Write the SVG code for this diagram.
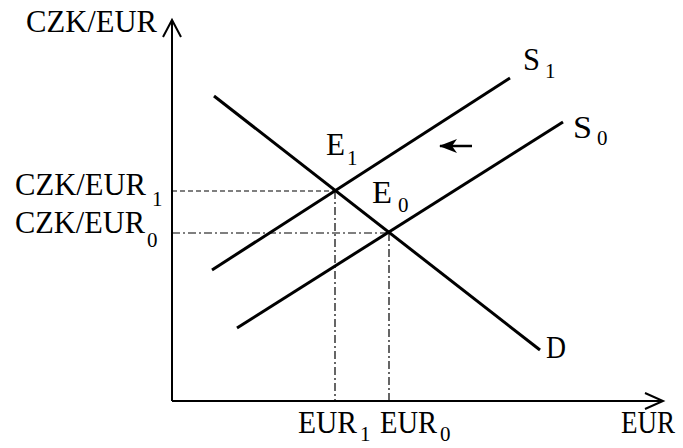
<svg xmlns="http://www.w3.org/2000/svg" width="683" height="448" viewBox="0 0 683 448">
<style>
.t{font-family:"Liberation Serif","Times New Roman",serif;font-size:32px;fill:#000}
.s{font-family:"Liberation Serif","Times New Roman",serif;font-size:21px;fill:#000}
.ax{stroke:#000;stroke-width:2;fill:none}
.ln{stroke:#000;stroke-width:3;fill:none}
.dash{stroke:#000;stroke-width:1.2;stroke-dasharray:5 3;fill:none}
.dd{stroke:#000;stroke-width:1.2;stroke-dasharray:8 3 2 3;fill:none}
</style>
<defs>
<marker id="ah" markerWidth="18" markerHeight="14" refX="17" refY="7" orient="auto" markerUnits="userSpaceOnUse">
<path d="M18,7 L0,0 L5,7 L0,14 Z" fill="#000"/>
</marker>
</defs>
<rect width="683" height="448" fill="#fff"/>
<g id="axes">
<line class="ax" x1="172" y1="401" x2="172" y2="21"/>
<polyline class="ax" points="163,37 172,20 181,37"/>
<line class="ax" x1="172" y1="401" x2="662" y2="401"/>
<polyline class="ax" points="645,393 663,401 645,409"/>
</g>
<g id="connectors">
<line class="dash" x1="172" y1="191" x2="335" y2="191"/>
<line class="dd" x1="172" y1="233" x2="389" y2="233"/>
<line class="dd" x1="335" y1="191" x2="335" y2="401"/>
<line class="dd" x1="389" y1="233" x2="389" y2="401"/>
<line x1="472" y1="146" x2="440" y2="146" stroke="#000" stroke-width="2.5" marker-end="url(#ah)"/>
</g>
<g id="D">
<line class="ln" x1="214" y1="96" x2="540" y2="350"/>
<text class="t" x="546" y="358" textLength="20" lengthAdjust="spacingAndGlyphs">D</text>
</g>
<g id="S1">
<line class="ln" x1="212" y1="270" x2="510" y2="78"/>
<text class="t" x="523" y="70" textLength="17" lengthAdjust="spacingAndGlyphs">S</text>
<text class="s" x="545" y="78">1</text>
</g>
<g id="S0">
<line class="ln" x1="237" y1="328" x2="563" y2="122"/>
<text class="t" x="573" y="138" textLength="19" lengthAdjust="spacingAndGlyphs">S</text>
<text class="s" x="597" y="145">0</text>
</g>
<g id="E1">
<text class="t" x="326" y="155" textLength="19" lengthAdjust="spacingAndGlyphs">E</text>
<text class="s" x="347" y="165">1</text>
</g>
<g id="E0">
<text class="t" x="372" y="203" textLength="20" lengthAdjust="spacingAndGlyphs">E</text>
<text class="s" x="398" y="212">0</text>
</g>
<g id="ylabel">
<text class="t" x="26" y="32" textLength="131" lengthAdjust="spacingAndGlyphs">CZK/EUR</text>
</g>
<g id="xlabel">
<text class="t" x="621" y="433" textLength="54" lengthAdjust="spacingAndGlyphs">EUR</text>
</g>
<g id="czk1">
<text class="t" x="15" y="195" textLength="131" lengthAdjust="spacingAndGlyphs">CZK/EUR</text>
<text class="s" x="152" y="206">1</text>
</g>
<g id="czk0">
<text class="t" x="15" y="233" textLength="130" lengthAdjust="spacingAndGlyphs">CZK/EUR</text>
<text class="s" x="147" y="247">0</text>
</g>
<g id="eur1">
<text class="t" x="298" y="433" textLength="59" lengthAdjust="spacingAndGlyphs">EUR</text>
<text class="s" x="360" y="441">1</text>
</g>
<g id="eur0">
<text class="t" x="380" y="433" textLength="57" lengthAdjust="spacingAndGlyphs">EUR</text>
<text class="s" x="440" y="441">0</text>
</g>
</svg>
